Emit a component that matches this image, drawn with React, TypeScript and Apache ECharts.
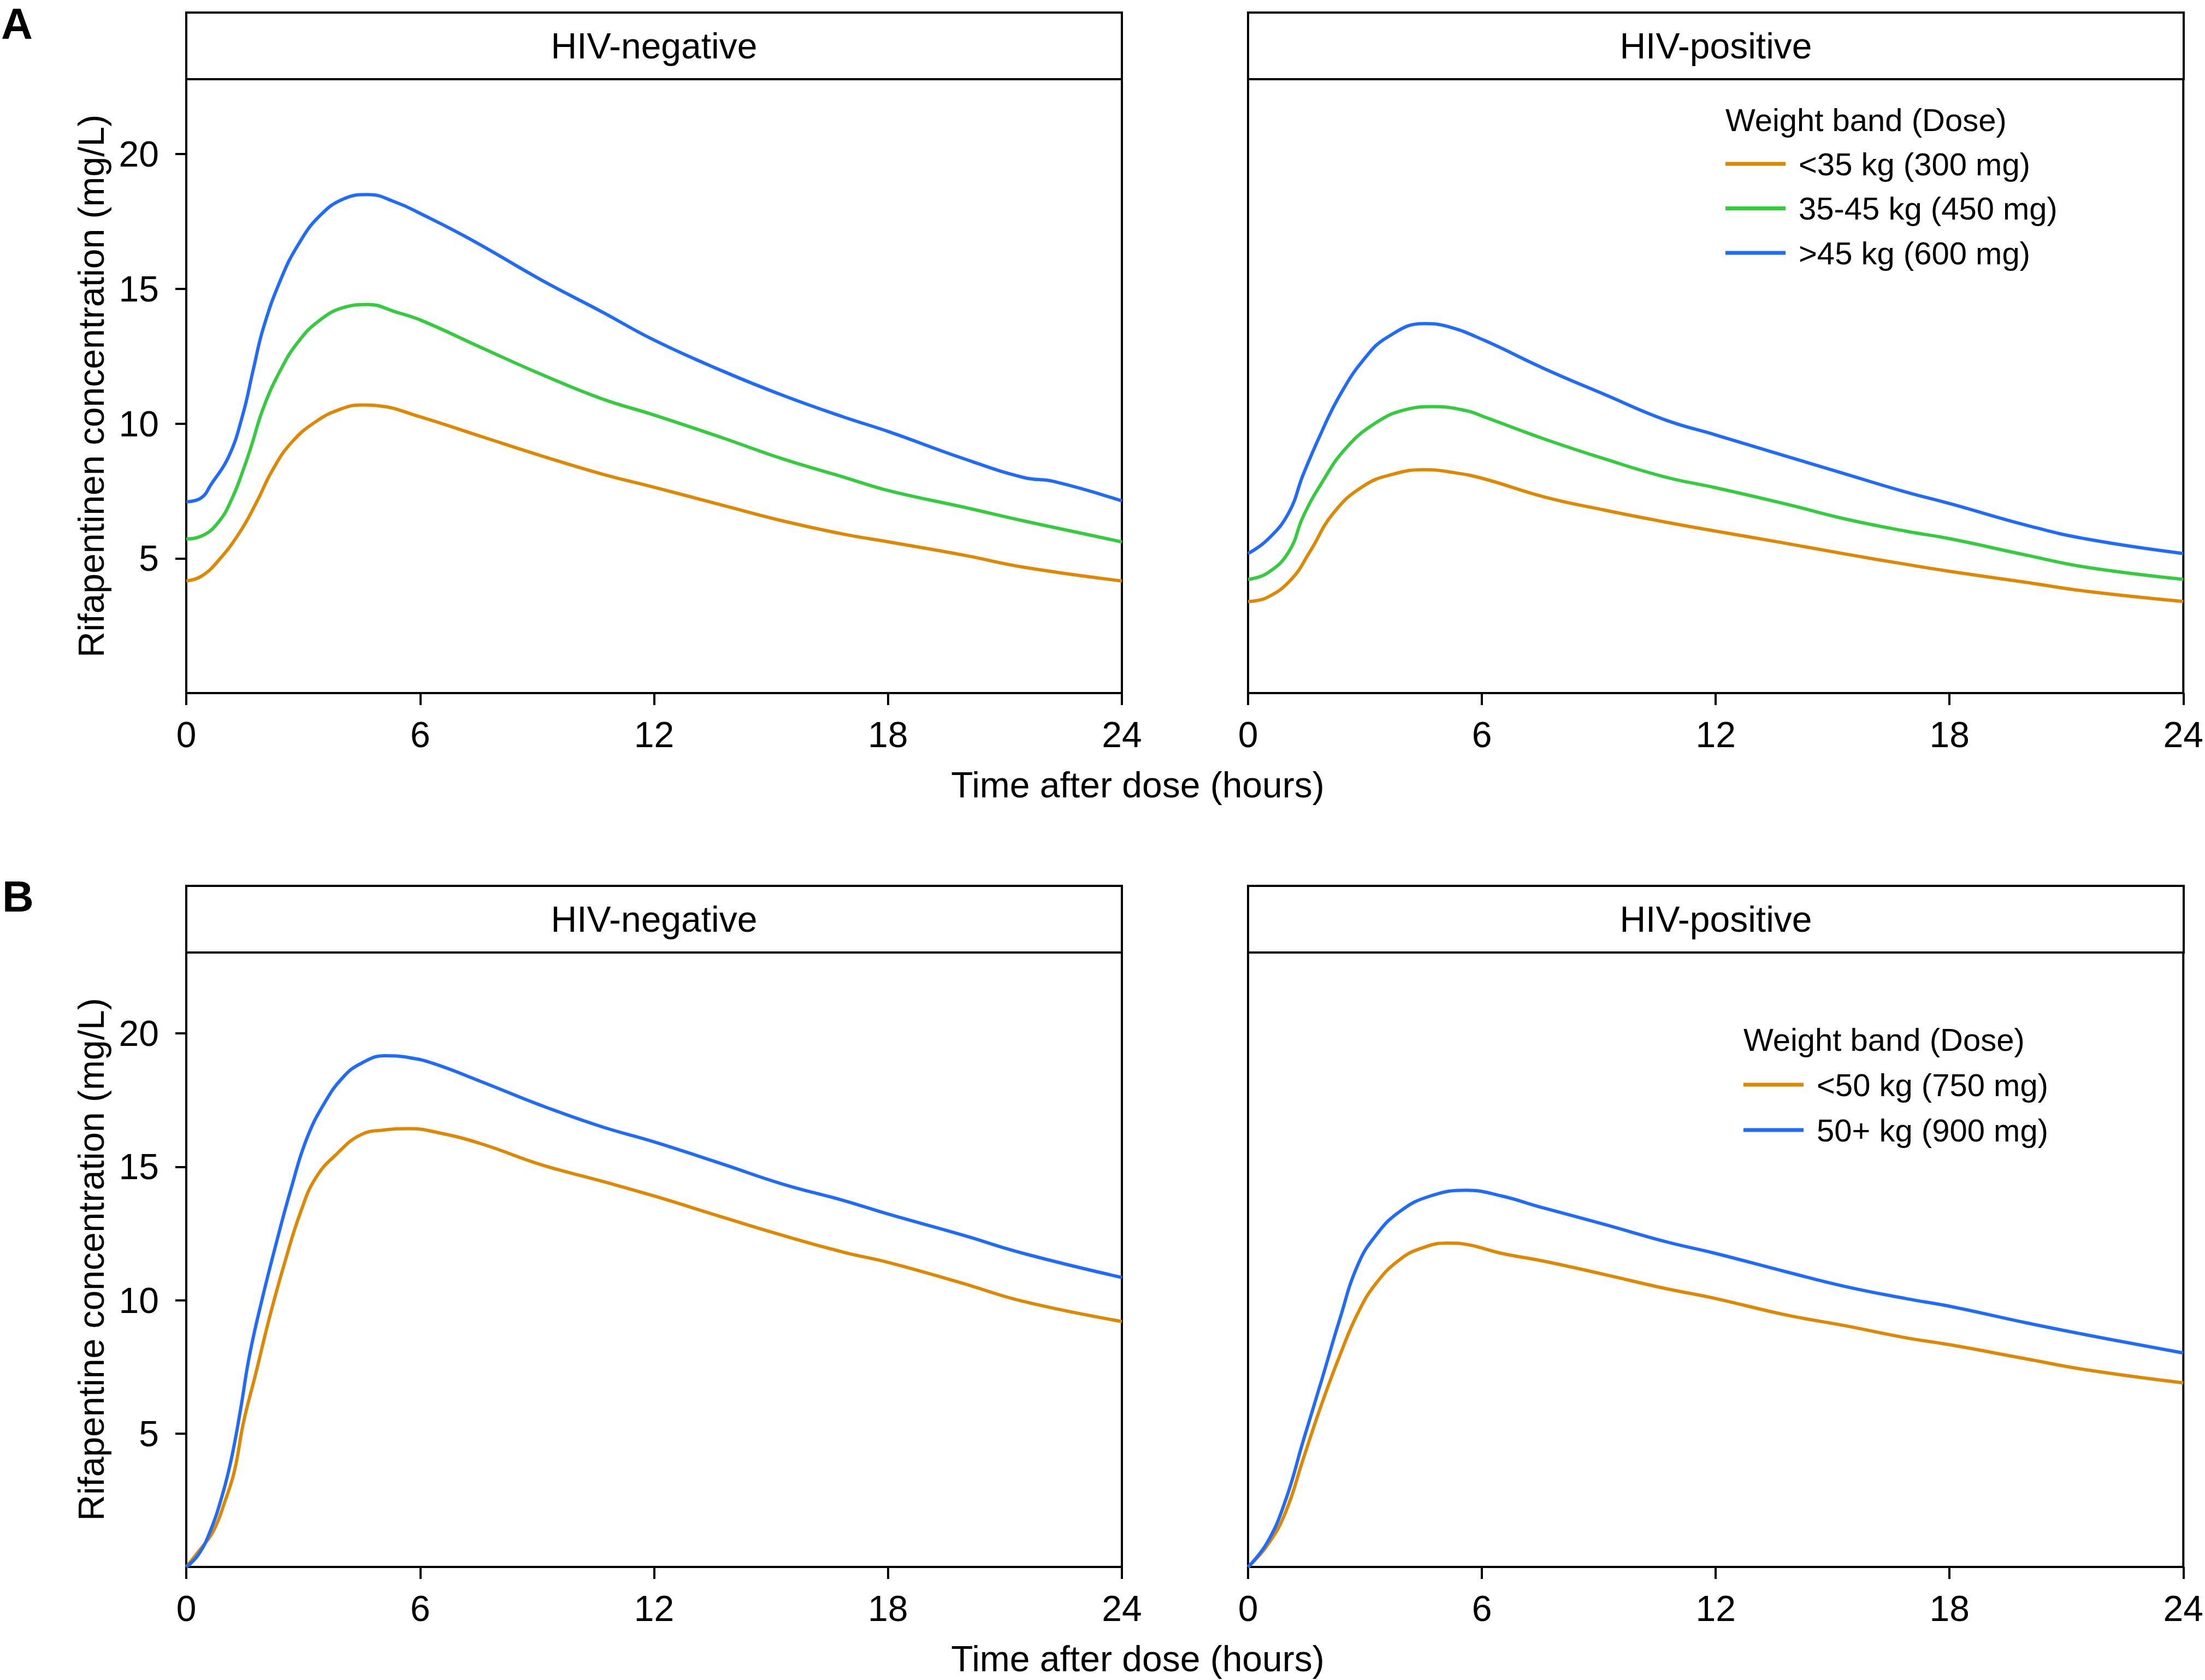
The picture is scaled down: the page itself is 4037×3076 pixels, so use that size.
import React, { useEffect, useRef } from "react";
import * as echarts from "echarts";

// ---------- Data ----------
const xTicks = [0, 6, 12, 18, 24];
const yTicks = [5, 10, 15, 20];

const namesA = ["<35 kg (300 mg)", "35-45 kg (450 mg)", ">45 kg (600 mg)"];
const namesB = ["<50 kg (750 mg)", "50+ kg (900 mg)"];
const panelTitles = ["HIV-negative", "HIV-positive"];

// Panel A, HIV-negative
const tA_neg_600 = [0, 0.38, 0.64, 1.09, 1.45, 1.72, 1.98, 2.43, 2.88, 3.41, 4.04, 4.66, 5.38, 6.0, 7.34, 9.12, 10.66, 12.0, 13.76, 15.3, 16.85, 18.02, 19.94, 21.48, 22.26, 24];
const cA_neg_600 = [7.1, 7.24, 7.75, 8.78, 10.33, 12.01, 13.56, 15.37, 16.66, 17.69, 18.34, 18.5, 18.21, 17.8, 16.8, 15.32, 14.15, 13.1, 11.95, 11.05, 10.25, 9.7, 8.7, 8.0, 7.85, 7.13];
const tA_neg_450 = [0, 0.38, 0.82, 1.18, 1.49, 1.67, 1.98, 2.43, 2.88, 3.41, 4.04, 4.66, 5.38, 6.03, 7.57, 9.12, 10.66, 12.0, 13.76, 15.3, 16.85, 18.02, 19.94, 21.48, 24];
const cA_neg_450 = [5.72, 5.82, 6.33, 7.24, 8.4, 9.17, 10.59, 12.02, 13.05, 13.82, 14.31, 14.42, 14.14, 13.83, 12.82, 11.82, 10.92, 10.32, 9.47, 8.69, 8.02, 7.51, 6.9, 6.39, 5.61];
const tA_neg_300 = [0, 0.38, 0.82, 1.36, 1.81, 2.21, 2.7, 3.32, 3.95, 4.49, 4.93, 6.0, 7.57, 9.12, 10.66, 12.0, 13.76, 15.3, 16.85, 18.02, 19.94, 21.48, 24];
const cA_neg_300 = [4.16, 4.33, 4.91, 5.94, 7.1, 8.27, 9.3, 10.07, 10.53, 10.69, 10.66, 10.25, 9.52, 8.8, 8.13, 7.64, 6.97, 6.39, 5.9, 5.61, 5.12, 4.67, 4.16];

// Panel A, HIV-positive
const tA_pos_600 = [0, 0.49, 1.04, 1.42, 1.89, 2.35, 2.97, 3.59, 4.51, 5.13, 6.06, 7.6, 9.15, 10.7, 12.0, 13.79, 15.33, 16.88, 18.04, 19.97, 21.51, 24];
const cA_pos_600 = [5.18, 5.68, 6.68, 8.13, 9.7, 11.04, 12.38, 13.22, 13.71, 13.6, 13.09, 12.04, 11.08, 10.14, 9.58, 8.8, 8.13, 7.46, 7.02, 6.23, 5.72, 5.18];
const tA_pos_450 = [0, 0.49, 1.04, 1.42, 1.89, 2.5, 3.28, 4.05, 4.74, 5.6, 6.06, 7.6, 9.15, 10.7, 12.0, 13.79, 15.33, 16.88, 18.04, 19.97, 21.51, 24];
const cA_pos_450 = [4.22, 4.45, 5.23, 6.57, 7.8, 9.07, 10.03, 10.52, 10.63, 10.48, 10.25, 9.43, 8.69, 8.02, 7.62, 7.02, 6.46, 6.01, 5.72, 5.12, 4.67, 4.22];
const tA_pos_300 = [0, 0.49, 1.11, 1.58, 2.19, 2.97, 3.74, 4.51, 5.29, 6.06, 7.6, 9.15, 10.7, 12.0, 13.79, 15.33, 16.88, 18.04, 19.97, 21.51, 24];
const cA_pos_300 = [3.4, 3.55, 4.22, 5.23, 6.68, 7.69, 8.13, 8.29, 8.18, 7.95, 7.28, 6.79, 6.35, 6.01, 5.56, 5.16, 4.78, 4.51, 4.11, 3.78, 3.4];

// Panel B, HIV-negative
const tB_neg_900 = [0, 0.31, 0.62, 0.93, 1.16, 1.39, 1.62, 1.93, 2.32, 2.7, 3.09, 3.55, 4.02, 4.48, 5.1, 5.72, 6.34, 7.57, 9.12, 10.66, 12.01, 13.76, 15.3, 16.85, 18.02, 19.94, 21.48, 24];
const cB_neg_900 = [0, 0.46, 1.36, 2.72, 4.07, 5.88, 7.91, 9.94, 12.2, 14.24, 16.05, 17.4, 18.35, 18.87, 19.16, 19.09, 18.87, 18.19, 17.29, 16.5, 15.93, 15.1, 14.35, 13.74, 13.22, 12.43, 11.75, 10.85];
const tB_neg_750 = [0, 0.31, 0.7, 1.0, 1.24, 1.47, 1.78, 2.16, 2.55, 2.94, 3.32, 3.86, 4.48, 5.1, 5.72, 6.49, 7.57, 9.12, 10.66, 12.01, 13.76, 15.3, 16.85, 18.02, 19.94, 21.48, 24];
const cB_neg_750 = [0, 0.57, 1.36, 2.49, 3.62, 5.43, 7.23, 9.49, 11.53, 13.33, 14.58, 15.48, 16.2, 16.38, 16.43, 16.27, 15.86, 15.07, 14.46, 13.9, 13.11, 12.43, 11.8, 11.41, 10.62, 9.95, 9.2];

// Panel B, HIV-positive
const tB_pos_900 = [0, 0.49, 0.96, 1.42, 1.89, 2.35, 2.81, 3.28, 3.9, 4.67, 5.6, 6.52, 7.45, 9.15, 10.7, 12.0, 13.79, 15.33, 16.88, 18.04, 19.97, 21.51, 24];
const cB_pos_900 = [0, 0.91, 2.49, 4.75, 7.01, 9.27, 11.3, 12.43, 13.33, 13.9, 14.12, 13.9, 13.51, 12.84, 12.2, 11.75, 11.07, 10.51, 10.06, 9.76, 9.15, 8.7, 8.02];
const tB_pos_750 = [0, 0.49, 0.96, 1.42, 1.89, 2.35, 2.81, 3.28, 3.9, 4.51, 5.13, 5.6, 6.52, 7.6, 9.15, 10.7, 12.0, 13.79, 15.33, 16.88, 18.04, 19.97, 21.51, 24];
const cB_pos_750 = [0, 0.8, 2.04, 4.07, 6.11, 7.91, 9.49, 10.62, 11.53, 11.98, 12.14, 12.09, 11.75, 11.46, 10.96, 10.44, 10.06, 9.45, 9.04, 8.59, 8.32, 7.8, 7.39, 6.9];

// ---------- Styling ----------
const FONT = "Liberation Sans, Arial, Helvetica, sans-serif";
const ORANGE = "#E08700";
const GREEN = "#33CC3D";
const BLUE = "#1F6BFF";

const zip = (t: number[], c: number[]) => t.map((x, i) => [x, c[i]]);

export default function App() {
  const ref = useRef<HTMLDivElement>(null);

  useEffect(() => {
    if (!ref.current) return;
    const chart = echarts.init(ref.current, null, { renderer: "svg" });

    const gridsPx = [
      { left: 341, top: 145, width: 1713, height: 1124 },
      { left: 2285, top: 145, width: 1713, height: 1124 },
      { left: 341, top: 1744, width: 1713, height: 1125 },
      { left: 2285, top: 1744, width: 1713, height: 1125 },
    ];
    const yMax = [22.78, 22.78, 23.03, 23.03];

    const grid = gridsPx.map((g) => ({
      ...g,
      show: true,
      borderColor: "#000",
      borderWidth: 4,
      backgroundColor: "transparent",
      containLabel: false,
    }));

    const xAxis = gridsPx.map((_, i) => ({
      type: "value",
      gridIndex: i,
      min: xTicks[0],
      max: xTicks[xTicks.length - 1],
      interval: 6,
      splitLine: { show: false },
      axisLine: { show: true, lineStyle: { color: "#000", width: 4 } },
      axisTick: { show: true, length: 22, lineStyle: { color: "#000", width: 4 } },
      axisLabel: { show: true, margin: 43, fontSize: 66, fontFamily: FONT, color: "#000", lineHeight: 66 },
    }));

    const yAxis = gridsPx.map((_, i) => {
      const isLeft = i % 2 === 0;
      return {
        type: "value",
        gridIndex: i,
        min: 0,
        max: yMax[i],
        splitLine: { show: false },
        axisLine: { show: true, onZero: false, lineStyle: { color: "#000", width: 4 } },
        axisTick: isLeft
          ? { show: true, length: 20, customValues: yTicks, lineStyle: { color: "#000", width: 4 } }
          : { show: false },
        axisLabel: isLeft
          ? { show: true, margin: 50, fontSize: 66, fontFamily: FONT, color: "#000", customValues: yTicks }
          : { show: false },
      };
    });

    const mk = (name: string, idx: number, t: number[], c: number[], color: string) => ({
      type: "line",
      name,
      xAxisIndex: idx,
      yAxisIndex: idx,
      data: zip(t, c),
      color,
      smooth: 0.45,
      showSymbol: false,
      symbol: "none",
      lineStyle: { color, width: 6 },
      silent: true,
    });

    const series = [
      mk(namesA[0], 0, tA_neg_300, cA_neg_300, ORANGE),
      mk(namesA[1], 0, tA_neg_450, cA_neg_450, GREEN),
      mk(namesA[2], 0, tA_neg_600, cA_neg_600, BLUE),
      mk(namesA[0], 1, tA_pos_300, cA_pos_300, ORANGE),
      mk(namesA[1], 1, tA_pos_450, cA_pos_450, GREEN),
      mk(namesA[2], 1, tA_pos_600, cA_pos_600, BLUE),
      mk(namesB[0], 2, tB_neg_750, cB_neg_750, ORANGE),
      mk(namesB[1], 2, tB_neg_900, cB_neg_900, BLUE),
      mk(namesB[0], 3, tB_pos_750, cB_pos_750, ORANGE),
      mk(namesB[1], 3, tB_pos_900, cB_pos_900, BLUE),
    ];

    const legendText = {
      fontSize: 58,
      fontFamily: FONT,
      color: "#000",
      lineHeight: 60,
      padding: [0, 0, 0, 19],
    };
    const legend = [
      {
        data: namesA,
        orient: "vertical",
        left: 3159,
        top: 270,
        padding: 0,
        itemGap: 21.5,
        itemWidth: 110,
        itemHeight: 7,
        icon: "rect",
        selectedMode: false,
        textStyle: legendText,
      },
      {
        data: namesB,
        orient: "vertical",
        left: 3192,
        top: 1956,
        padding: 0,
        itemGap: 23,
        itemWidth: 110,
        itemHeight: 7,
        icon: "rect",
        selectedMode: false,
        textStyle: legendText,
      },
    ];

    const strips = [
      { x: 341, y: 23, w: 1713, h: 122, text: panelTitles[0] },
      { x: 2285, y: 23, w: 1713, h: 122, text: panelTitles[1] },
      { x: 341, y: 1622, w: 1713, h: 122, text: panelTitles[0] },
      { x: 2285, y: 1622, w: 1713, h: 122, text: panelTitles[1] },
    ];

    const graphic: any[] = [];
    strips.forEach((s) => {
      graphic.push({
        type: "rect",
        shape: { x: s.x, y: s.y, width: s.w, height: s.h },
        style: { fill: "#fff", stroke: "#000", lineWidth: 4 },
        silent: true,
      });
      graphic.push({
        type: "text",
        x: s.x + s.w / 2,
        y: s.y + s.h / 2,
        style: { text: s.text, fontSize: 66, fontFamily: FONT, fill: "#000", align: "center", verticalAlign: "middle" },
        silent: true,
      });
    });
    // axis titles
    [1437, 3037].forEach((y) => {
      graphic.push({
        type: "text",
        x: 2083,
        y,
        style: { text: "Time after dose (hours)", fontSize: 66, fontFamily: FONT, fill: "#000", align: "center", verticalAlign: "middle" },
        silent: true,
      });
    });
    [
      { y: 707, text: "Rifapentinen concentration (mg/L)" },
      { y: 2306, text: "Rifapentine concentration (mg/L)" },
    ].forEach((o) => {
      graphic.push({
        type: "text",
        x: 167,
        y: o.y,
        rotation: Math.PI / 2,
        style: { text: o.text, fontSize: 66, fontFamily: FONT, fill: "#000", align: "center", verticalAlign: "middle" },
        silent: true,
      });
    });
    // panel letters
    [
      { x: 2, y: 43, text: "A" },
      { x: 4, y: 1641, text: "B" },
    ].forEach((o) => {
      graphic.push({
        type: "text",
        x: o.x,
        y: o.y,
        style: { text: o.text, fontSize: 80, fontWeight: "bold", fontFamily: FONT, fill: "#000", align: "left", verticalAlign: "middle" },
        silent: true,
      });
    });
    // legend titles
    [
      { x: 3159, y: 219 },
      { x: 3192, y: 1903 },
    ].forEach((o) => {
      graphic.push({
        type: "text",
        x: o.x,
        y: o.y,
        style: { text: "Weight band (Dose)", fontSize: 58, fontFamily: FONT, fill: "#000", align: "left", verticalAlign: "middle" },
        silent: true,
      });
    });

    chart.setOption({
      animation: false,
      backgroundColor: "#fff",
      textStyle: { fontFamily: FONT },
      grid,
      xAxis,
      yAxis,
      series,
      legend,
      graphic,
    });

    return () => chart.dispose();
  }, []);

  return (
    <div
      ref={ref}
      style={{ position: "absolute", left: 0, top: 0, width: 4037, height: 3076, background: "#fff" }}
    />
  );
}
